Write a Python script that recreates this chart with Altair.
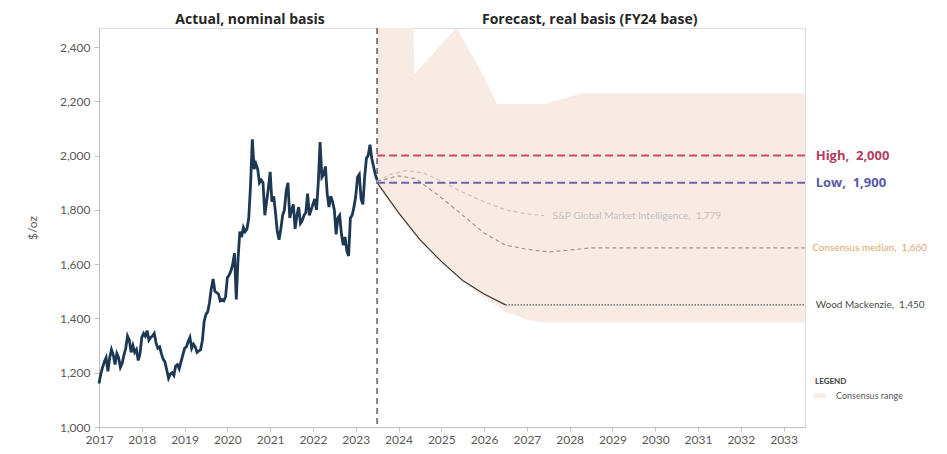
import altair as alt
import pandas as pd

# ---------------- data ----------------
# historical gold price, semi-monthly samples Jan 2017 .. Jun 2023 (US$/oz, nominal)
hist_price = [
    # 2017
    1160, 1195, 1220, 1240, 1255, 1205, 1255, 1285, 1265, 1230, 1270, 1255,
    1220, 1235, 1265, 1290, 1335, 1320, 1275, 1300, 1275, 1285, 1245, 1270,
    # 2018
    1330, 1345, 1335, 1355, 1320, 1330, 1335, 1345, 1310, 1290, 1295, 1270,
    1250, 1240, 1210, 1180, 1195, 1200, 1190, 1225, 1230, 1215, 1240, 1265,
    # 2019
    1290, 1295, 1315, 1330, 1290, 1305, 1295, 1275, 1280, 1285, 1320, 1390,
    1415, 1425, 1460, 1510, 1545, 1500, 1495, 1490, 1465, 1470, 1465, 1480,
    # 2020
    1550, 1560, 1575, 1600, 1640, 1470, 1620, 1720, 1700, 1735, 1720, 1730,
    1770, 1890, 2060, 1950, 1970, 1950, 1900, 1910, 1900, 1780, 1830, 1880,
    # 2021
    1940, 1830, 1850, 1790, 1720, 1690, 1730, 1780, 1800, 1870, 1900, 1770,
    1800, 1820, 1730, 1780, 1810, 1750, 1760, 1780, 1790, 1860, 1780, 1800,
    # 2022
    1820, 1840, 1800, 1900, 2050, 1920, 1930, 1960, 1860, 1810, 1850, 1830,
    1800, 1710, 1770, 1780, 1710, 1670, 1700, 1650, 1630, 1770, 1780, 1810,
    # 2023
    1850, 1920, 1930, 1840, 1820, 1920, 1990, 2000, 2040, 1990, 1960, 1930,
    1910,
]
hist_year = [2017 + i / 24 for i in range(len(hist_price))]

# consensus range band
band_year = [2023.5, 2024.0, 2024.35, 2024.37, 2025.0, 2025.35, 2025.5, 2026.0,
             2026.3, 2026.5, 2027.0, 2027.4, 2027.5, 2028.3, 2033.5]
band_top = [2470, 2470, 2470, 2300, 2410, 2470, 2430, 2290,
            2190, 2190, 2190, 2190, 2195, 2230, 2230]
band_bottom = [1890, 1780, 1710, 1705, 1600, 1560, 1535, 1475,
               1445, 1425, 1395, 1385, 1385, 1385, 1385]

# forecasts
sp_year = [2023.5, 2023.8, 2024.2, 2024.6, 2025.0, 2025.5, 2026.0, 2026.5, 2027.0, 2027.4]
sp_val = [1905, 1930, 1945, 1935, 1905, 1865, 1830, 1800, 1785, 1779]

cons_year = [2023.5, 2024.0, 2024.4, 2025.0, 2025.5, 2026.0, 2026.5, 2027.0, 2027.5, 2028.0, 2028.5, 2033.5]
cons_val = [1905, 1925, 1915, 1845, 1780, 1715, 1670, 1655, 1645, 1652, 1660, 1660]

wm_year = [2023.5, 2024.0, 2024.5, 2025.0, 2025.5, 2026.0, 2026.5]
wm_val = [1900, 1790, 1690, 1610, 1540, 1490, 1450]
wm_flat_year = [2026.5, 2033.5]
wm_flat_val = [1450, 1450]

high_val = 2000
low_val = 1900
split_year = 2023.5
end_year = 2033.5

label_x = 2033.75
sp_label_x = 2027.6

titles = ["Actual, nominal basis", "Forecast, real basis (FY24 base)"]
title_x = [2020.53, 2028.47]

y_ticks = [1000, 1200, 1400, 1600, 1800, 2000, 2200, 2400]
x_ticks = list(range(2017, 2034))

FONT = "Lato"
TFONT = "Open Sans"
GRAY = "#595959"
NB = "\u00a0"

xs = alt.Scale(domain=[2017, 2033.5], nice=False, zero=False)
ys = alt.Scale(domain=[1000, 2470], nice=False, zero=False)

x_axis = alt.Axis(values=x_ticks, format="d", title=None, grid=False,
                  labelColor=GRAY, labelFontSize=12, labelFont=FONT,
                  tickColor="#bfbfbf", domainColor="#bfbfbf", tickSize=4,
                  labelPadding=3, labelFlush=False)
y_axis = alt.Axis(values=y_ticks, format=",d", title="$/oz", grid=False,
                  labelColor=GRAY, labelFontSize=12, labelFont=FONT,
                  tickColor="#bfbfbf", domainColor="#bfbfbf", tickSize=5,
                  labelPadding=4, titleColor=GRAY, titleFontSize=12,
                  titleFontWeight="normal", titleFont=FONT, titlePadding=20)


def X(field="x"):
    return alt.X(f"{field}:Q", scale=xs, axis=x_axis)


def Y(field="y"):
    return alt.Y(f"{field}:Q", scale=ys, axis=y_axis)


band_df = pd.DataFrame({"x": band_year, "y": band_top, "y2": band_bottom,
                        "series": "Consensus range"})
band = alt.Chart(band_df).mark_area(clip=True).encode(
    x=X(), y=Y(), y2="y2:Q",
    fill=alt.Fill("series:N",
                  scale=alt.Scale(domain=["Consensus range"], range=["#f8ebe4"]),
                  legend=alt.Legend(title="LEGEND", orient="none", legendX=716, legendY=350,
                                    titleFontSize=8, titleFont=FONT, titleColor="#404040",
                                    titleFontWeight="bold", titlePadding=5,
                                    labelFontSize=9, labelFont=FONT, labelColor=GRAY,
                                    symbolType="M-1.5,-0.55H1.5V0.55H-1.5Z",
                                    symbolSize=64, symbolStrokeWidth=0,
                                    labelOffset=12)),
)

split_df = pd.DataFrame({"x": [split_year]})
split = alt.Chart(split_df).mark_rule(color="#7f7f7f", strokeWidth=2,
                                      strokeDash=[6, 4]).encode(x=X())

hist_df = pd.DataFrame({"x": hist_year, "y": hist_price})
hist = alt.Chart(hist_df).mark_line(color="#1d3853", strokeWidth=2.8).encode(x=X(), y=Y())

hl_df_high = pd.DataFrame({"x": [split_year], "x2": [end_year], "y": [high_val]})
hl_df_low = pd.DataFrame({"x": [split_year], "x2": [end_year], "y": [low_val]})
high = alt.Chart(hl_df_high).mark_rule(color="#cc4a66", strokeWidth=2,
                                       strokeDash=[8, 4]).encode(x=X(), x2="x2:Q", y=Y())
low = alt.Chart(hl_df_low).mark_rule(color="#6c63b5", strokeWidth=2,
                                     strokeDash=[8, 4]).encode(x=X(), x2="x2:Q", y=Y())

sp_df = pd.DataFrame({"x": sp_year, "y": sp_val})
sp = alt.Chart(sp_df).mark_line(color="#c9c2c2", strokeWidth=1.2,
                                strokeDash=[4, 3]).encode(x=X(), y=Y())

cons_df = pd.DataFrame({"x": cons_year, "y": cons_val})
cons = alt.Chart(cons_df).mark_line(color="#a8968d", strokeWidth=1.2,
                                    strokeDash=[4, 3]).encode(x=X(), y=Y())

wm_df = pd.DataFrame({"x": wm_year, "y": wm_val})
wm = alt.Chart(wm_df).mark_line(color="#3a3a3a", strokeWidth=1.2).encode(x=X(), y=Y())
wmf_df = pd.DataFrame({"x": wm_flat_year, "y": wm_flat_val})
wmf = alt.Chart(wmf_df).mark_line(color="#555555", strokeWidth=1.4,
                                  strokeDash=[1.5, 1.5]).encode(x=X(), y=Y())


def label(text, xv, yv, color, size, weight="normal", font=FONT):
    df = pd.DataFrame({"x": [xv], "y": [yv], "t": [text]})
    return alt.Chart(df).mark_text(align="left", baseline="middle", color=color,
                                   fontSize=size, font=font, fontWeight=weight).encode(
        x=X(), y=Y(), text="t:N")


lab_high = label(f"High,{NB}{NB}2,000", label_x, high_val, "#b23d62", 13, "bold", TFONT)
lab_low = label(f"Low,{NB}{NB}1,900", label_x, low_val, "#5a5aa6", 13, "bold", TFONT)
lab_sp = label(f"S&P Global Market Intelligence,{NB}{NB}1,779", sp_label_x, 1779, "#c4c0c0", 10)
lab_cons = label(f"Consensus median,{NB}{NB}1,660", label_x - 0.08, 1660, "#e3a66e", 10)
lab_wm = label(f"Wood Mackenzie,{NB}{NB}1,450", label_x, 1450, "#4a4a4a", 10)

title_df = pd.DataFrame({"x": title_x, "t": titles})
title_layer = alt.Chart(title_df).mark_text(align="center", baseline="middle",
                                            fontSize=14, fontWeight="bold", font=TFONT,
                                            color="#262626", dy=-8).encode(
    x=X(), y=alt.value(0), text="t:N")

chart = alt.layer(
    band, split, hist, sp, cons, wm, wmf, high, low,
    lab_high, lab_low, lab_sp, lab_cons, lab_wm, title_layer,
).properties(
    width=706, height=399,
    autosize=alt.AutoSizeParams(type="none"),
    padding={"left": 91, "top": 20, "right": 134, "bottom": 22},
).configure_view(stroke=None).configure(font=FONT)

chart.save("out.html", embed_options={"renderer": "svg", "actions": False})
